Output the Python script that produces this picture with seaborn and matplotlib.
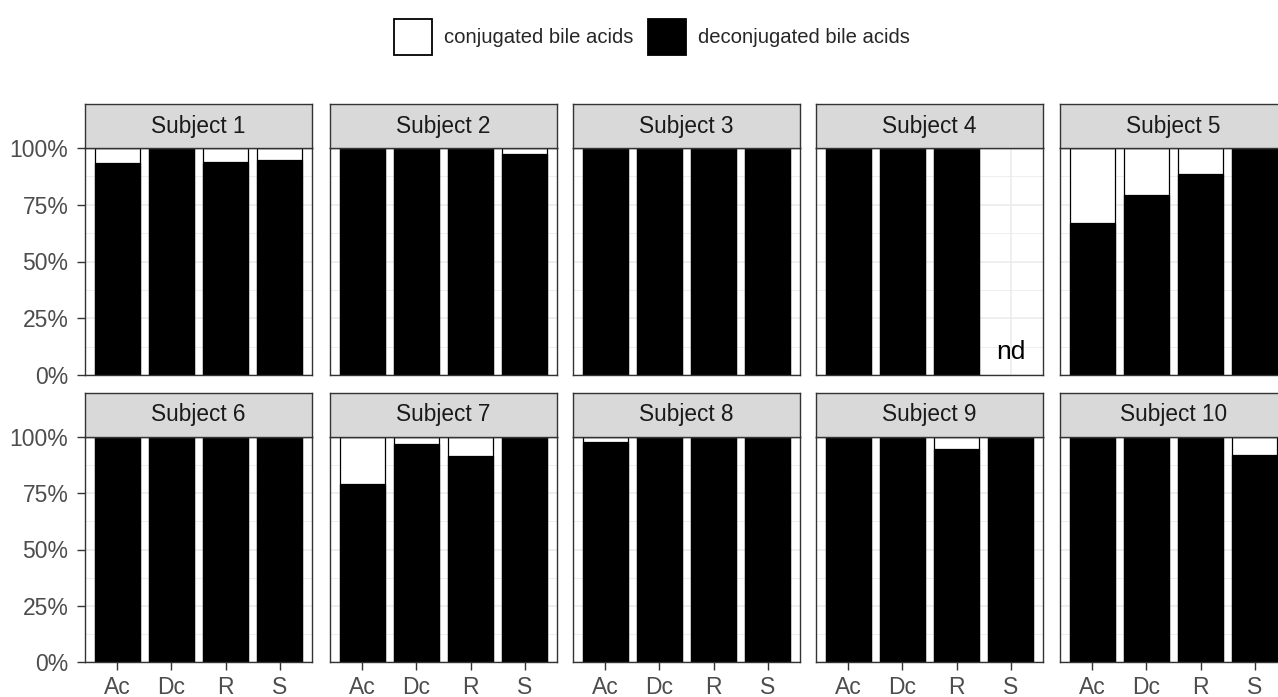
import numpy as np
import pandas as pd
import matplotlib
matplotlib.use("Agg")
import matplotlib.pyplot as plt
import seaborn as sns
from matplotlib.patches import Patch
from matplotlib.ticker import FixedLocator, PercentFormatter

# Sampling sites on the x axis
samples = ["Ac", "Dc", "R", "S"]

# Fraction of deconjugated bile acids per subject (NaN = not detected)
subject_1 = [0.934, 1.000, 0.940, 0.947]
subject_2 = [1.000, 1.000, 1.000, 0.974]
subject_3 = [1.000, 1.000, 1.000, 1.000]
subject_4 = [1.000, 1.000, 1.000, np.nan]
subject_5 = [0.668, 0.793, 0.885, 1.000]
subject_6 = [1.000, 1.000, 1.000, 1.000]
subject_7 = [0.790, 0.968, 0.916, 1.000]
subject_8 = [0.977, 1.000, 1.000, 1.000]
subject_9 = [1.000, 1.000, 0.948, 1.000]
subject_10 = [1.000, 1.000, 1.000, 0.920]

subject_names = [f"Subject {i}" for i in range(1, 11)]
subject_values = [subject_1, subject_2, subject_3, subject_4, subject_5,
                  subject_6, subject_7, subject_8, subject_9, subject_10]

rows = []
for name, vals in zip(subject_names, subject_values):
    for s, v in zip(samples, vals):
        rows.append({"subject": name, "sample": s,
                     "deconjugated": v, "conjugated": 1 - v})
df = pd.DataFrame(rows)
df["total"] = df["deconjugated"] + df["conjugated"]

sns.set_style("white")
plt.rcParams["font.family"] = ["Liberation Sans", "DejaVu Sans"]

W, H = 1278, 697
fig = plt.figure(figsize=(W / 100, H / 100), dpi=100)

panel_lefts = [85, 330, 573, 816, 1060]
panel_w = 227
row_tops = [148, 437]
row_bottoms = [375, 662]
strip_h = 44

grid_col = "#EBEBEB"
border_col = "#333333"
text_col = "#4D4D4D"
tick_fs = 16.5
strip_fs = 16.3
legend_fs = 14.6
bar_w = 0.83

for idx, name in enumerate(subject_names):
    r, c = divmod(idx, 5)
    left = panel_lefts[c] / W
    bottom = (H - row_bottoms[r]) / H
    height = (row_bottoms[r] - row_tops[r]) / H
    width = panel_w / W
    ax = fig.add_axes([left, bottom, width, height])
    sub = df[df["subject"] == name]

    # Stacked 100% bars: full bar (conjugated on top) then deconjugated part
    sns.barplot(data=sub, x="sample", y="total", order=samples, color="white",
                edgecolor="black", linewidth=0.9, width=bar_w, saturation=1,
                errorbar=None, ax=ax, zorder=2)
    sns.barplot(data=sub, x="sample", y="deconjugated", order=samples,
                color="black", edgecolor="black", linewidth=0.9, width=bar_w,
                saturation=1, errorbar=None, ax=ax, zorder=3)

    ax.set_xlim(-0.6, 3.6)
    ax.set_ylim(0, 1)
    ax.set_xlabel("")
    ax.set_ylabel("")
    ax.set_facecolor("white")
    ax.set_axisbelow(True)

    ax.yaxis.set_major_locator(FixedLocator([0, 0.25, 0.5, 0.75, 1.0]))
    ax.yaxis.set_minor_locator(FixedLocator([0.125, 0.375, 0.625, 0.875]))
    ax.yaxis.set_major_formatter(PercentFormatter(1.0, decimals=0))
    ax.grid(True, which="major", axis="both", color=grid_col, linewidth=1.1, zorder=0)
    ax.grid(True, which="minor", axis="y", color=grid_col, linewidth=0.6, zorder=0)

    for sp in ax.spines.values():
        sp.set_color(border_col)
        sp.set_linewidth(1.0)
        sp.set_zorder(5)

    ax.tick_params(axis="both", which="minor", length=0)
    ax.tick_params(axis="both", which="major", direction="out", length=5.5,
                   width=1.0, color=border_col, labelcolor=text_col,
                   labelsize=tick_fs, pad=6.5)
    if c != 0:
        ax.tick_params(axis="y", which="major", length=0, labelleft=False)
    else:
        ax.tick_params(axis="y", left=True)
    if r == 0:
        ax.tick_params(axis="x", which="major", length=0, labelbottom=False)
    else:
        ax.tick_params(axis="x", bottom=True, pad=4.5)

    for s, v in zip(sub["sample"], sub["deconjugated"]):
        if pd.isna(v):
            ax.text(samples.index(s), 0.1, "nd", ha="center", va="center",
                    fontsize=19, color="black")

    # Facet strip
    sax = fig.add_axes([left, (H - row_tops[r]) / H, width, strip_h / H])
    sax.set_facecolor("#D9D9D9")
    sax.set_xticks([])
    sax.set_yticks([])
    for sp in sax.spines.values():
        sp.set_color(border_col)
        sp.set_linewidth(1.0)
    sax.text(0.5, 0.5, name, ha="center", va="center", fontsize=strip_fs,
             color="#1A1A1A", transform=sax.transAxes)

handles = [Patch(facecolor="white", edgecolor="black", linewidth=1.3,
                 label="conjugated bile acids"),
           Patch(facecolor="black", edgecolor="black", linewidth=1.3,
                 label="deconjugated bile acids")]
fig.legend(handles=handles, loc="center", bbox_to_anchor=(652 / W, 1 - 37 / H),
           ncol=2, frameon=False, fontsize=legend_fs, handlelength=1.85,
           handleheight=2.4, handletextpad=0.6, columnspacing=0.75)

fig.savefig("out.png", dpi=100, facecolor="white")
